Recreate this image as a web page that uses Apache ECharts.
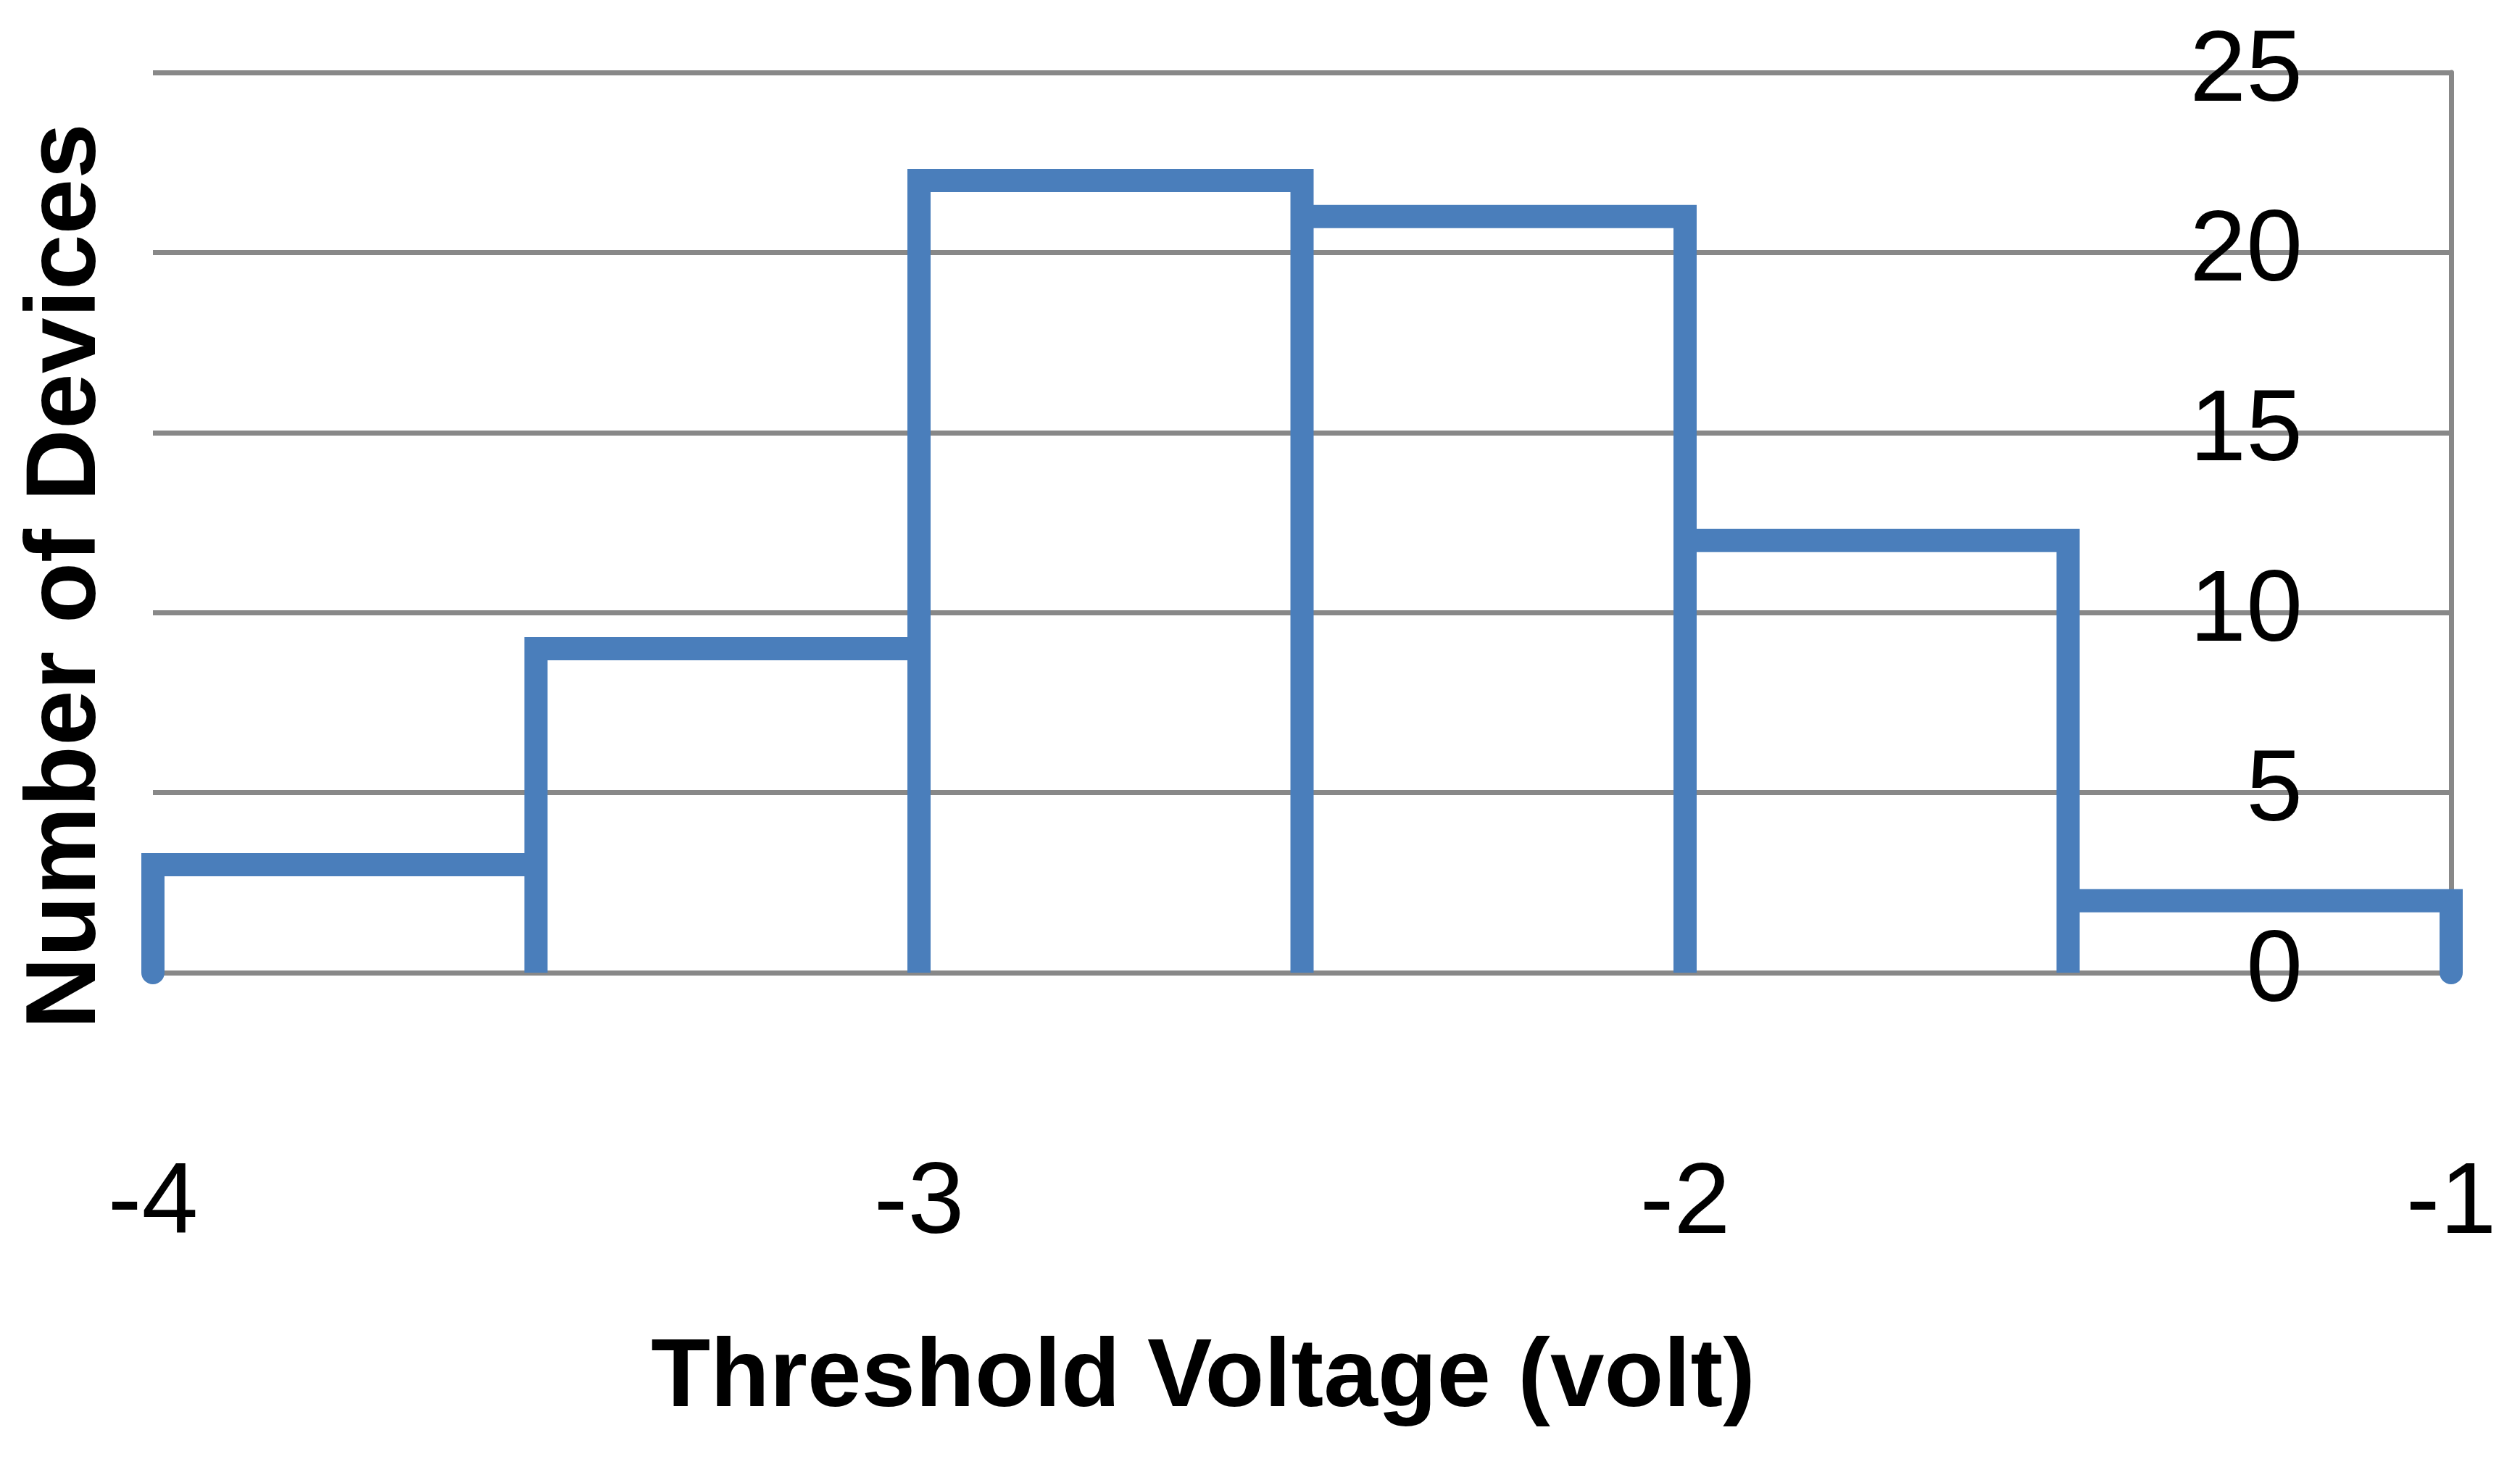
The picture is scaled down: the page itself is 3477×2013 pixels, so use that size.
<!DOCTYPE html>
<html><head><meta charset="utf-8">
<script src="https://cdn.jsdelivr.net/npm/echarts@6/dist/echarts.min.js"></script>
<style>html,body{margin:0;padding:0;background:#fff}#c{width:3477px;height:2013px}</style>
</head><body><div id="c"></div>
<script>
const binEdges = [-4, -3.5, -3, -2.5, -2, -1.5, -1];
const counts = [3, 9, 22, 21, 12, 2];
const yTicks = [0, 5, 10, 15, 20, 25];
const xTicks = [-4, -3, -2, -1];
const xTitle = 'Threshold Voltage (volt)';
const yTitle = 'Number of Devices';

const pts = [];
for (let i = 0; i < counts.length; i++) {
  pts.push([binEdges[i], 0], [binEdges[i], counts[i]], [binEdges[i+1], counts[i]], [binEdges[i+1], 0]);
}
const chart = echarts.init(document.getElementById('c'));
const font = '"Liberation Sans", "Open Sans", sans-serif';
chart.setOption({
  animation: false,
  grid: {left: 211, right: 95, top: 100, bottom: 671, containLabel: false},
  xAxis: {
    type: 'value', min: -4, max: -1, interval: 1,
    axisLine: {show: false}, axisTick: {show: false}, splitLine: {show: false},
    axisLabel: {color: '#000', fontSize: 140, fontFamily: font, margin: 250}
  },
  yAxis: {
    type: 'value', min: 0, max: 25, interval: 5, position: 'right',
    axisLine: {show: true, lineStyle: {color: '#888', width: 7}},
    axisTick: {show: false},
    splitLine: {lineStyle: {color: '#888', width: 7}},
    axisLabel: {inside: true, color: '#000', fontSize: 140, fontFamily: font, margin: 205}
  },
  graphic: [
    {type: 'text', x: 1660, y: 1903, style: {text: xTitle, fontSize: 134, fontWeight: 'bold', fontFamily: font, fill: '#000', align: 'center', verticalAlign: 'middle'}},
    {type: 'text', x: 93, y: 795, rotation: Math.PI / 2, style: {text: yTitle, fontSize: 138, fontWeight: 'bold', fontFamily: font, fill: '#000', align: 'center', verticalAlign: 'middle'}}
  ],
  series: [{
    type: 'line', data: pts, showSymbol: false, symbol: 'none',
    lineStyle: {color: '#4a7ebb', width: 32, cap: 'round', join: 'miter'}
  }]
});
</script></body></html>
